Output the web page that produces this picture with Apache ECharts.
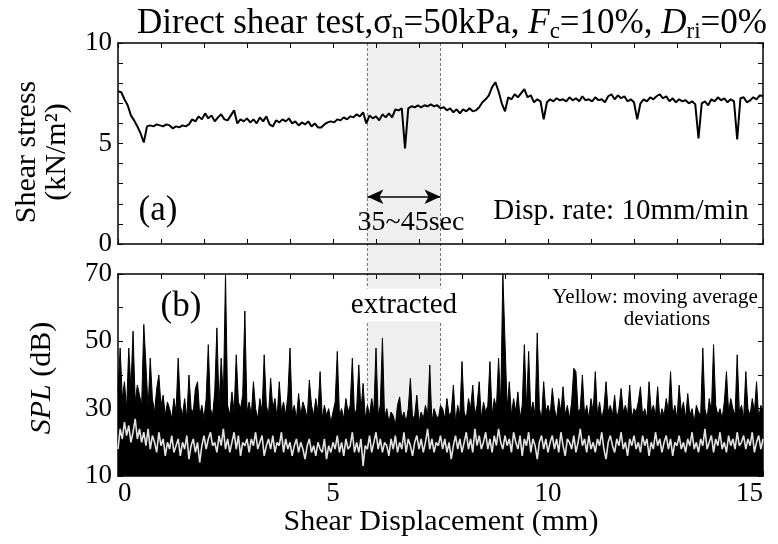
<!DOCTYPE html>
<html>
<head>
<meta charset="utf-8">
<script src="https://cdn.jsdelivr.net/npm/echarts@6/dist/echarts.min.js"></script>
<style>
  html, body { margin: 0; padding: 0; background: #fff; }
  #main { width: 778px; height: 544px; }
</style>
</head>
<body>
<div id="main"></div>
<script>
// shear stress (kN/m2), one value every 0.075 mm
const STRESS_STEP = 0.075;
const stressY = [7.6,7.55,7.2,6.9,6.4,6.15,5.85,5.5,5.05,5.85,
  5.9,5.85,5.95,5.9,5.85,5.95,5.9,5.75,5.85,5.8,
  5.9,5.85,5.95,6.2,6.1,6.35,6.2,6.5,6.25,6.4,
  6.1,6.3,6.45,6.2,6.15,6.4,6.65,6.0,6.2,6.1,
  6.25,6.05,6.2,6.0,6.3,6.1,6.35,5.95,5.85,6.15,
  6.05,6.2,6.1,6.25,6.0,6.1,5.9,6.05,5.95,6.1,
  5.85,6.0,5.8,5.8,5.95,6.05,6.1,6.05,6.2,6.15,
  6.3,6.2,6.35,6.3,6.45,6.35,6.55,6.0,6.4,6.25,
  6.35,6.15,6.45,6.3,6.5,6.3,6.7,6.65,6.75,4.75,
  6.75,6.85,6.8,6.9,6.8,6.9,6.85,6.95,6.85,6.9,
  6.75,6.8,6.65,6.75,6.55,6.7,6.5,6.7,6.6,6.75,
  6.6,6.65,6.8,7.05,7.2,7.4,7.8,8.05,7.6,7.0,
  6.6,7.3,7.2,7.45,7.3,7.5,7.7,7.3,7.4,7.05,
  7.2,7.1,6.2,7.05,7.2,7.1,7.25,7.15,7.2,7.1,
  7.3,7.15,7.25,7.1,7.35,7.15,7.2,7.1,7.3,7.15,
  7.2,7.05,7.35,7.45,7.2,7.4,7.25,7.35,7.1,7.2,
  7.05,6.2,7.0,7.2,7.1,7.3,7.2,7.35,7.45,7.25,
  7.35,7.1,7.25,7.05,7.2,7.1,7.15,7.0,7.1,6.95,
  5.25,7.0,7.1,6.9,7.2,7.1,7.3,7.15,7.25,7.05,
  7.2,7.1,5.2,7.25,7.3,7.05,7.15,7.3,7.2,7.4,
  7.35];

// SPL (dB), one value every 0.05 mm
const SPL_STEP = 0.05;
// black trace (peak envelope)
const splY = [35,48,33,38,30,48,36,53,32,37,34,
  31,55,43,30,45,33,29,36,40,31,
  34,28,32,30,27,33,29,45,31,28,
  33,27,40,30,29,36,38,28,31,27,
  33,49,30,28,35,54,31,45,33,70,
  31,28,35,29,46,32,30,34,59,29,
  32,28,38,30,27,33,29,46,31,28,
  39,30,33,27,38,29,32,28,34,48,
  29,31,27,34.5,28,32,30,27,38.5,31,
  28,33,29,41,27,31,28,30,26,29,
  32,47,28,30,27,33,29,31,45,28,
  30,43,29,37.5,27,31,28,33,29,48,
  28,31,51,27,30,26,29,28,25,31,
  33.5,27,29,26,30,39,27,28,34,26,
  29,27,31,28,43,26,30,28,27,31,
  30,27,33,28,29,37,26,31,28,44,
  29,27,33,30,37,28,31,38,27,32,
  29,31,44,28,33,30,45,31,70,50,
  30,38,28,33,29,35,27,31,49,30,
  47,29,32,28,52.5,30,27,38,29,31,
  28,36,30,27,33,29,36.5,28,31,27,
  32,42,41,29,30,40,28,31,27,33,
  29,41,28,32,27,30,38,29,31,28,
  34,27,30,36,29,31,28,37,27,30,
  29,32,36.5,28,30,27,38,29,31,28,
  36.5,27,30,28,33,29,41,28,31,27,
  37,29,32,27,34.5,28,30,26,31,29,
  28,48,30,27,33,29,49,31,28,30,
  27,32,41,29,33,30,28,46,29,31,
  27,41,30,28,33,29,38,27,31,29];
// light trace (moving average deviations)
const devY = [18,24,21,26,22,25,20,23,27,21,24,
  20,23,19,24,18,22,20,17,23,19,
  21,16,20,18,22,17,19,21,16,20,
  18,22,15,19,21,17,20,14,19,22,
  18,21,23,19,20,17,22,19,24,18,
  21,17,20,23,18,22,16,20,19,21,
  17,21,19,23,18,20,22,16,19,21,
  18,22,17,20,19,23,17,21,18,20,
  16,19,21,17,20,18,15,19,21,17,
  19,16,20,18,17,21,15,19,17,20,
  18,22,17,20,16,21,18,19,23,17,
  20,17,21,13,19,18,22,17,20,23,
  18,21,17,20,19,16,21,18,22,17,
  20,18,23,17,21,19,16,20,22,18,
  21,17,20,24,18,21,17,20,19,22,
  18,21,17,20,15,19,22,18,21,17,
  20,23,18,21,17,24,19,22,18,20,
  23,18,21,17,22,19,24,20,18,22,
  19,21,17,23,20,18,22,16,21,19,
  23,17,21,19,15,20,22,18,21,17,
  20,22,18,21,17,23,19,16,21,20,
  18,22,17,20,24,19,21,17,22,18,
  20,17,21,19,23,18,15,20,22,19,
  17,21,19,23,18,20,16,21,19,22,
  18,20,17,22,19,21,16,20,18,23,
  19,21,17,20,22,18,21,16,20,19,
  22,18,20,17,21,19,23,18,20,17,
  21,19,24,18,20,22,17,21,19,23,
  18,20,17,22,19,21,18,23,19,20,
  22,18,21,19,23,17,20,22,18,21];

// extracted window (mm) and arrow height in panel (a)
const extractFrom = 5.8;
const extractTo = 7.5;
const arrowY = 2.35;

function toPairs(arr, step) {
  return arr.map(function (v, i) { return [+(i * step).toFixed(3), v]; });
}

const FONT = "Liberation Serif";
const black = "#000";

function frameAxis(grid, pos, min, max, interval, labels) {
  return {
    type: "value", gridIndex: grid, position: pos,
    min: min, max: max, interval: interval,
    axisLine: { show: true, onZero: false, lineStyle: { color: black, width: 1.5 } },
    axisTick: { show: true, inside: true, length: 5, lineStyle: { color: black, width: 1 } },
    splitLine: { show: false },
    axisLabel: labels || { show: false },
  };
}

const chart = echarts.init(document.getElementById("main"));
chart.setOption({
  animation: false,
  backgroundColor: "#fff",
  textStyle: { fontFamily: FONT, color: black },
  title: {
    left: 132, top: 0,
    text: "{a|Direct shear test,σ}{s|n}{a|=50kPa, }{i|F}{s|c}{a|=10%, }{i|D}{s|ri}{a|=0%}",
    textStyle: {
      fontWeight: "normal",
      rich: {
        a: { fontFamily: FONT, fontSize: 35, fontWeight: "normal", color: black, lineHeight: 38 },
        i: { fontFamily: FONT, fontSize: 35, fontWeight: "normal", fontStyle: "italic", color: black, lineHeight: 38 },
        s: { fontFamily: FONT, fontSize: 23, fontWeight: "normal", color: black, lineHeight: 24, verticalAlign: "bottom" },
      },
    },
  },
  grid: [
    { left: 118, right: 15, top: 43, height: 201, outerBoundsMode: "none" },
    { left: 118, right: 15, top: 274, height: 202, outerBoundsMode: "none" },
  ],
  xAxis: [
    frameAxis(0, "bottom", 0, 15, 1),
    frameAxis(0, "top", 0, 15, 1),
    frameAxis(1, "bottom", 0, 15, 1, {
      show: true, fontFamily: FONT, fontSize: 27, color: black, margin: 4,
      alignMinLabel: "left", alignMaxLabel: "right",
      formatter: function (v) { return v % 5 === 0 ? String(v) : ""; },
    }),
    frameAxis(1, "top", 0, 15, 1),
  ],
  yAxis: [
    frameAxis(0, "left", 0, 10, 1, {
      show: true, fontFamily: FONT, fontSize: 27, color: black, margin: 6,
      formatter: function (v) { return v % 5 === 0 ? String(v) : ""; },
    }),
    frameAxis(0, "right", 0, 10, 1),
    frameAxis(1, "left", 10, 70, 10, {
      show: true, fontFamily: FONT, fontSize: 27, color: black, margin: 6,
      formatter: function (v) { return (v - 10) % 20 === 0 ? String(v) : ""; },
    }),
    frameAxis(1, "right", 10, 70, 10),
  ],
  series: [
    {
      name: "stress", type: "line", xAxisIndex: 0, yAxisIndex: 0,
      data: toPairs(stressY, STRESS_STEP),
      showSymbol: false, symbol: "none", z: 4,
      lineStyle: { color: black, width: 2 },
      markLine: {
        silent: true, symbol: ["arrow", "arrow"], symbolSize: [11, 16],
        label: { show: false },
        lineStyle: { color: black, width: 1.5, type: "solid" },
        data: [[{ coord: [extractFrom, arrowY] }, { coord: [extractTo, arrowY] }]],
      },
    },
    {
      name: "spl", type: "line", xAxisIndex: 2, yAxisIndex: 2,
      data: toPairs(splY, SPL_STEP),
      showSymbol: false, symbol: "none", z: 3,
      lineStyle: { color: black, width: 1 },
      areaStyle: { color: black, opacity: 1, origin: "start" },
    },
    {
      name: "dev", type: "line", xAxisIndex: 2, yAxisIndex: 2,
      data: toPairs(devY, SPL_STEP),
      showSymbol: false, symbol: "none", z: 4,
      lineStyle: { color: "#e2e2e2", width: 1.6 },
    },
  ],
});

// shaded window across both panels, from axis scales
const x1 = chart.convertToPixel({ xAxisIndex: 0 }, extractFrom);
const x2 = chart.convertToPixel({ xAxisIndex: 0 }, extractTo);
const yTop = chart.convertToPixel({ yAxisIndex: 0 }, 10);
const yBot = chart.convertToPixel({ yAxisIndex: 2 }, 10);
const dash = { stroke: "#777", lineWidth: 1, lineDash: [3, 2] };

chart.setOption({
  graphic: [
    { type: "rect", z: -5, shape: { x: x1, y: yTop, width: x2 - x1, height: yBot - yTop }, style: { fill: "#efefef" } },
    { type: "line", z: -4, shape: { x1: x1, y1: yTop, x2: x1, y2: yBot }, style: dash },
    { type: "line", z: -4, shape: { x1: x2, y1: yTop, x2: x2, y2: yBot }, style: dash },
    {
      type: "text", x: 42, y: 152, rotation: Math.PI / 2,
      style: { text: "Shear stress\n(kN/m²)", font: "30px " + FONT, fill: black, align: "center", verticalAlign: "middle", lineHeight: 30 },
    },
    {
      type: "text", x: 42, y: 378, rotation: Math.PI / 2,
      style: {
        text: "{i|SPL} (dB)", font: "30px " + FONT, fill: black, align: "center", verticalAlign: "middle",
        rich: { i: { fontFamily: FONT, fontSize: 30, fontStyle: "italic", fill: black } },
      },
    },
    { type: "text", x: 441, y: 522, style: { text: "Shear Displacement (mm)", font: "30px " + FONT, fill: black, align: "center", verticalAlign: "middle" } },
    { type: "text", x: 158, y: 211, style: { text: "(a)", font: "35px " + FONT, fill: black, align: "center", verticalAlign: "middle" } },
    { type: "text", x: 181, y: 307, style: { text: "(b)", font: "35px " + FONT, fill: black, align: "center", verticalAlign: "middle" } },
    { type: "text", x: 621, y: 211, style: { text: "Disp. rate: 10mm/min", font: "29px " + FONT, fill: black, align: "center", verticalAlign: "middle" } },
    { type: "text", x: 411, y: 223, style: { text: "35~45sec", font: "28px " + FONT, fill: black, align: "center", verticalAlign: "middle" } },
    {
      type: "text", x: (x1 + x2) / 2, y: 305, z: 10,
      style: { text: "extracted", font: "29px " + FONT, fill: black, align: "center", verticalAlign: "middle", backgroundColor: "#fff", padding: [2, 3] },
    },
    { type: "text", x: 655, y: 297, style: { text: "Yellow: moving average", font: "21px " + FONT, fill: black, align: "center", verticalAlign: "middle" } },
    { type: "text", x: 667, y: 319, style: { text: "deviations", font: "21px " + FONT, fill: black, align: "center", verticalAlign: "middle" } },
  ],
});
</script>
</body>
</html>
